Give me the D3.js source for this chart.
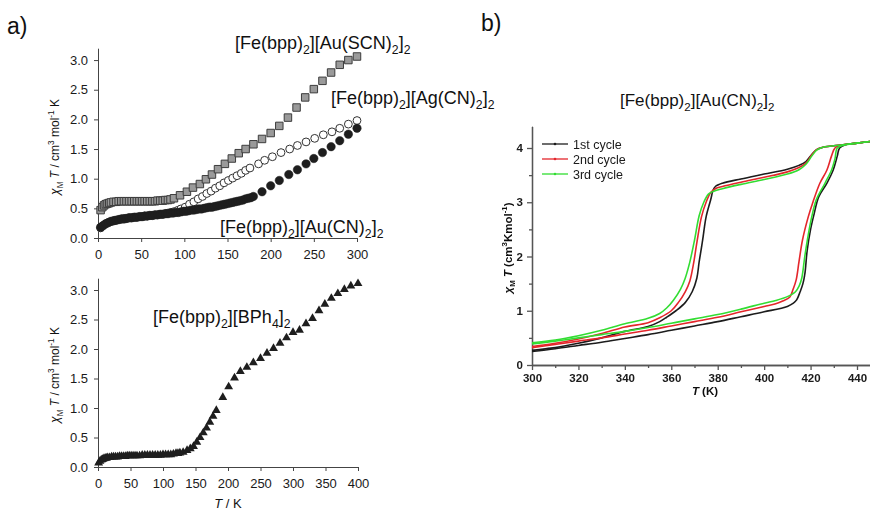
<!DOCTYPE html>
<html>
<head>
<meta charset="utf-8">
<script src="https://cdn.jsdelivr.net/npm/d3@7"></script>
<style>
  body { margin: 0; background: #fff; }
  svg { display: block; }
</style>
</head>
<body>
<svg id="fig" width="870" height="512"></svg>
<script>
// ---------- panel a (upper): chi_M T versus T for three salts, [T (K), chi_M T] ----------
const auScnData = [[3,0.47],[5,0.52],[7,0.55],[9,0.57],[11,0.58],[13,0.59],[15,0.60],[18,0.61],[21,0.61],[24,0.62],[27,0.62],[30,0.62],[33,0.62],[36,0.62],[39,0.62],[42,0.62],[45,0.62],[48,0.62],[51,0.62],[54,0.62],[57,0.62],[60,0.62],[63,0.62],[66,0.62],[69,0.63],[72,0.63],[75,0.63],[78,0.64],[81,0.64],[84,0.65],[88,0.67],[95,0.72],[103,0.78],[110,0.85],[118,0.91],[125,0.99],[132,1.07],[139,1.16],[147,1.25],[155,1.34],[163,1.43],[171,1.50],[180,1.58],[190,1.67],[200,1.77],[210,1.89],[220,2.03],[230,2.20],[240,2.37],[250,2.51],[260,2.65],[270,2.79],[280,2.92],[290,3.00],[300,3.06]];
const agCnData = [[3,0.17],[6,0.21],[9,0.24],[12,0.26],[15,0.28],[18,0.29],[21,0.30],[24,0.31],[27,0.32],[30,0.33],[33,0.33],[36,0.34],[39,0.34],[42,0.35],[45,0.35],[48,0.36],[51,0.36],[54,0.37],[57,0.37],[60,0.38],[63,0.38],[66,0.39],[69,0.39],[72,0.40],[75,0.40],[78,0.41],[81,0.42],[84,0.43],[87,0.44],[90,0.45],[93,0.47],[96,0.49],[101,0.52],[106,0.57],[111,0.61],[116,0.66],[121,0.70],[126,0.75],[131,0.79],[136,0.84],[141,0.88],[146,0.93],[151,0.97],[156,1.01],[161,1.05],[166,1.09],[171,1.14],[176,1.18],[186,1.25],[193,1.31],[202,1.37],[212,1.44],[222,1.50],[231,1.56],[241,1.62],[251,1.68],[261,1.74],[271,1.79],[280,1.85],[290,1.92],[300,1.98]];
const auCnData = [[3,0.18],[6,0.21],[9,0.24],[12,0.26],[15,0.28],[18,0.29],[21,0.30],[24,0.31],[27,0.32],[30,0.32],[33,0.33],[36,0.34],[39,0.34],[42,0.35],[45,0.35],[48,0.36],[51,0.36],[54,0.37],[57,0.37],[60,0.38],[63,0.38],[66,0.39],[69,0.39],[72,0.40],[75,0.40],[78,0.41],[81,0.41],[84,0.42],[87,0.42],[90,0.43],[93,0.43],[96,0.44],[99,0.45],[102,0.45],[105,0.46],[108,0.47],[111,0.47],[114,0.48],[117,0.49],[120,0.49],[123,0.50],[126,0.51],[129,0.52],[132,0.52],[135,0.53],[138,0.54],[141,0.55],[144,0.56],[147,0.57],[150,0.58],[153,0.59],[156,0.60],[159,0.61],[162,0.62],[165,0.63],[168,0.64],[171,0.66],[174,0.67],[177,0.68],[180,0.70],[190,0.78],[200,0.88],[210,0.97],[221,1.07],[231,1.15],[241,1.25],[250,1.34],[260,1.44],[270,1.54],[280,1.64],[290,1.75],[300,1.85]];

// ---------- panel a (lower): [Fe(bpp)2][BPh4]2 ----------
const bph4Data = [[1,0.07],[3,0.10],[5,0.12],[7,0.13],[9,0.14],[11,0.15],[13,0.15],[15,0.16],[18,0.16],[21,0.17],[24,0.17],[27,0.17],[30,0.17],[33,0.18],[36,0.18],[39,0.18],[42,0.18],[45,0.19],[48,0.19],[51,0.19],[54,0.19],[57,0.19],[60,0.19],[64,0.19],[68,0.20],[72,0.20],[76,0.20],[80,0.20],[84,0.20],[88,0.20],[92,0.20],[96,0.20],[100,0.21],[104,0.21],[108,0.21],[112,0.21],[116,0.22],[120,0.23],[123,0.23],[126,0.24],[131,0.25],[137,0.28],[142,0.31],[147,0.35],[152,0.42],[157,0.50],[162,0.58],[167,0.66],[172,0.76],[177,0.86],[182,0.96],[192,1.18],[201,1.36],[210,1.51],[219,1.62],[229,1.69],[239,1.77],[250,1.84],[260,1.93],[270,2.01],[280,2.10],[290,2.19],[300,2.28],[310,2.32],[320,2.43],[330,2.52],[340,2.65],[349,2.76],[359,2.86],[369,2.94],[379,3.01],[389,3.07],[400,3.11]];

// ---------- panel b: three thermal cycles of [Fe(bpp)2][Au(CN)2]2, heating and cooling ----------
const heat1 = [[300,0.25],[310,0.30],[320,0.36],[330,0.42],[340,0.49],[350,0.56],[360,0.64],[370,0.72],[380,0.80],[390,0.89],[400,0.98],[410,1.08],[412.6,1.14],[414,1.2],[415.5,1.35],[416.7,1.5],[417.6,1.7],[418.5,2.1],[420,2.5],[421.5,2.78],[423.5,3.1],[427,3.35],[429.7,3.59],[431.5,3.85],[432.5,4.0],[435,4.06],[440,4.09],[445.6,4.12]];
const cool1 = [[445.6,4.12],[440,4.09],[430,4.04],[425,4.01],[422.6,3.97],[420.5,3.88],[418,3.75],[415,3.68],[410,3.61],[400,3.52],[390,3.43],[382,3.35],[379,3.29],[378,3.22],[377,3.05],[375,2.73],[373.5,2.3],[372,1.9],[371,1.6],[369,1.35],[366,1.15],[362,1.0],[358,0.88],[355,0.8],[350,0.71],[340,0.62],[330,0.5],[320,0.4],[310,0.32],[300,0.27]];
const heat2 = [[300,0.32],[310,0.38],[320,0.44],[330,0.50],[340,0.57],[350,0.64],[360,0.72],[370,0.80],[380,0.88],[390,0.98],[400,1.08],[405,1.13],[408,1.18],[411,1.25],[412.5,1.4],[413.8,1.57],[415,1.9],[416.5,2.3],[419,2.73],[421,3.0],[424,3.35],[427,3.59],[429,3.85],[430.5,4.0],[433,4.05],[440,4.09],[445.6,4.12]];
const cool2 = [[445.6,4.12],[440,4.09],[430,4.04],[425,4.01],[422.6,3.97],[420.5,3.87],[418,3.72],[415,3.64],[410,3.56],[400,3.46],[390,3.37],[382,3.29],[379,3.25],[377,3.18],[375,3.0],[373,2.73],[371,2.25],[369.5,1.85],[368,1.55],[366,1.35],[363,1.15],[360,1.0],[355,0.87],[350,0.78],[340,0.70],[330,0.58],[320,0.48],[310,0.40],[300,0.34]];
const heat3 = [[300,0.39],[310,0.44],[320,0.50],[330,0.56],[340,0.62],[350,0.69],[360,0.77],[370,0.85],[380,0.93],[390,1.03],[400,1.14],[405,1.19],[410,1.26],[413.5,1.35],[415,1.45],[416.2,1.6],[417.5,2.0],[419,2.4],[420.5,2.73],[422.5,3.05],[426.2,3.35],[429,3.59],[430.5,3.8],[431.5,4.0],[434,4.05],[440,4.09],[445.6,4.12]];
const cool3 = [[445.6,4.12],[440,4.09],[430,4.04],[425,4.01],[422.6,3.96],[420.5,3.85],[418,3.7],[415,3.6],[410,3.52],[400,3.42],[390,3.33],[382,3.25],[378,3.2],[376,3.15],[374,3.0],[372,2.75],[370,2.3],[368,1.9],[366,1.6],[364,1.4],[361,1.2],[358,1.05],[355,0.95],[350,0.86],[340,0.76],[330,0.64],[320,0.54],[310,0.46],[300,0.41]];

const cycleNames = ["1st cycle", "2nd cycle", "3rd cycle"];
const cycleColors = ["#1c1c1c", "#e4262b", "#33dd33"];

// tick values
const aUpperTTicks = [0, 50, 100, 150, 200, 250, 300];
const aLowerTTicks = [0, 50, 100, 150, 200, 250, 300, 350, 400];
const aChiTicks = [0, 0.5, 1.0, 1.5, 2.0, 2.5, 3.0];
const bTTicks = [300, 320, 340, 360, 380, 400, 420, 440];
const bTMinor = [310, 330, 350, 370, 390, 410, 430];
const bChiTicks = [0, 1, 2, 3, 4];
const bChiMinor = [0.5, 1.5, 2.5, 3.5];

// formula labels as [text, kind] runs
const fAuScn = [["[Fe(bpp)"], ["2", "sub"], ["][Au(SCN)"], ["2", "sub"], ["]"], ["2", "sub"]];
const fAgCn  = [["[Fe(bpp)"], ["2", "sub"], ["][Ag(CN)"], ["2", "sub"], ["]"], ["2", "sub"]];
const fAuCn  = [["[Fe(bpp)"], ["2", "sub"], ["][Au(CN)"], ["2", "sub"], ["]"], ["2", "sub"]];
const fBph4  = [["[Fe(bpp)"], ["2", "sub"], ["][BPh"], ["4", "sub"], ["]"], ["2", "sub"]];
const chiLabelA = [["χ", null, "i"], ["M", "sub"], [" T", null, "i"], [" / cm"], ["3", "sup"], [" mol"], ["-1", "sup"], [" K"]];
const chiLabelB = [["χ", null, "i"], ["M", "sub"], [" T", null, "i"], [" (cm"], ["3", "sup"], ["Kmol"], ["-1", "sup"], [")"]];

const SANS = "'Liberation Sans', Arial, Helvetica, sans-serif";
const svg = d3.select("#fig");
svg.append("rect").attr("width", 870).attr("height", 512).attr("fill", "#fff");

// the scanned panel b is slightly soft
const defs = svg.append("defs");
defs.append("filter").attr("id", "soft").attr("x", "-5%").attr("y", "-5%").attr("width", "110%").attr("height", "110%")
  .append("feGaussianBlur").attr("stdDeviation", 0.45);

// text runs with sub/superscripts
function rich(text, parts, size) {
  let shift = 0;
  for (const [s, kind, style] of parts) {
    const target = kind === "sub" ? size * 0.3 : kind === "sup" ? -size * 0.42 : 0;
    const t = text.append("tspan").text(s).attr("dy", target - shift);
    shift = target;
    if (kind) t.attr("font-size", size * 0.68);
    if (style === "i") t.attr("font-style", "italic");
  }
  return text;
}

function label(g, x, y, parts, size, extra = {}) {
  const t = g.append("text").attr("x", x).attr("y", y)
    .attr("font-family", SANS).attr("font-size", size).attr("fill", "#111");
  for (const k in extra) t.attr(k, extra[k]);
  return rich(t, parts, size);
}

function styleAxis(sel, color, width, fontSize, bold) {
  sel.select(".domain").attr("stroke", color).attr("stroke-width", width);
  sel.selectAll(".tick line").attr("stroke", color).attr("stroke-width", width);
  sel.selectAll(".tick text").attr("font-family", SANS).attr("font-size", fontSize)
    .attr("fill", "#1a1a1a").attr("font-weight", bold ? "bold" : "normal");
}

function symbols(g, data, x, y, type, size, fill, stroke, sw) {
  g.append("g").selectAll("path").data(data).join("path")
    .attr("transform", d => `translate(${x(d[0])},${y(d[1])})`)
    .attr("d", d3.symbol(type, size))
    .attr("fill", fill)
    .attr("stroke", stroke || "none")
    .attr("stroke-width", sw || 0);
}

// ---------- panel a, upper ----------
{
  const g = svg.append("g");
  const x = d3.scaleLinear([0, 300], [98, 357]);
  const y = d3.scaleLinear([0, 3.2], [238, 48.2]);
  g.append("g").attr("transform", "translate(0,238)")
    .call(d3.axisBottom(x).tickValues(aUpperTTicks).tickSize(4).tickPadding(8).tickSizeOuter(0))
    .call(s => styleAxis(s, "#444", 1, 13));
  g.append("g").attr("transform", "translate(98,0)")
    .call(d3.axisLeft(y).tickValues(aChiTicks).tickFormat(d3.format(".1f")).tickSize(4).tickPadding(6).tickSizeOuter(0))
    .call(s => styleAxis(s, "#444", 1, 13));
  symbols(g, auScnData, x, y, d3.symbolSquare, 56, "#9a9a9a", "#3c3c3c", 1);
  symbols(g, agCnData, x, y, d3.symbolCircle, 48, "#fff", "#333", 1);
  symbols(g, auCnData, x, y, d3.symbolCircle, 56, "#1e1e1e", "#1e1e1e", 0.5);
  label(g, 0, 0, chiLabelA, 12, { transform: "translate(59,147) rotate(-90)", "text-anchor": "middle" });
  label(g, 235, 49, fAuScn, 18);
  label(g, 331, 104, fAgCn, 18);
  label(g, 220, 233, fAuCn, 18);
}

// ---------- panel a, lower ----------
{
  const g = svg.append("g");
  const x = d3.scaleLinear([0, 400], [98, 358]);
  const y = d3.scaleLinear([0, 3.2], [467, 278.2]);
  g.append("g").attr("transform", "translate(0,467)")
    .call(d3.axisBottom(x).tickValues(aLowerTTicks).tickSize(4).tickPadding(8).tickSizeOuter(0))
    .call(s => styleAxis(s, "#444", 1, 13));
  g.append("g").attr("transform", "translate(98,0)")
    .call(d3.axisLeft(y).tickValues(aChiTicks).tickFormat(d3.format(".1f")).tickSize(4).tickPadding(6).tickSizeOuter(0))
    .call(s => styleAxis(s, "#444", 1, 13));
  symbols(g, bph4Data, x, y, d3.symbolTriangle, 34, "#1e1e1e");
  label(g, 0, 0, chiLabelA, 12, { transform: "translate(59,375) rotate(-90)", "text-anchor": "middle" });
  label(g, 228, 508, [["T", null, "i"], [" / K"]], 13, { "text-anchor": "middle" });
  label(g, 153, 323, fBph4, 18);
}

// ---------- panel b ----------
{
  const g = svg.append("g").attr("filter", "url(#soft)");
  const x = d3.scaleLinear([300, 445.6], [532, 870]);
  const y = d3.scaleLinear([0, 4.4], [365, 126.3]);
  const axisColor = "#555";
  g.append("g").attr("transform", "translate(0,365)")
    .call(d3.axisBottom(x).tickValues(bTMinor).tickSize(3).tickFormat("").tickSizeOuter(0))
    .call(s => styleAxis(s, axisColor, 1.3, 11.5, true));
  g.append("g").attr("transform", "translate(0,365)")
    .call(d3.axisBottom(x).tickValues(bTTicks).tickFormat(d3.format("d")).tickSize(5).tickPadding(4).tickSizeOuter(0))
    .call(s => styleAxis(s, axisColor, 1.3, 11.5, true));
  g.append("g").attr("transform", "translate(532,0)")
    .call(d3.axisLeft(y).tickValues(bChiMinor).tickSize(3).tickFormat("").tickSizeOuter(0))
    .call(s => styleAxis(s, axisColor, 1.3, 11.5, true));
  g.append("g").attr("transform", "translate(532,0)")
    .call(d3.axisLeft(y).tickValues(bChiTicks).tickFormat(d3.format("d")).tickSize(5).tickPadding(4).tickSizeOuter(0))
    .call(s => styleAxis(s, axisColor, 1.3, 11.5, true));

  const line = d3.line().x(d => x(d[0])).y(d => y(d[1])).curve(d3.curveCatmullRom.alpha(0.5));
  const cycles = [[heat1, cool1], [heat2, cool2], [heat3, cool3]];
  cycles.forEach((branches, i) => {
    branches.forEach(b => {
      g.append("path").attr("d", line(b)).attr("fill", "none")
        .attr("stroke", cycleColors[i]).attr("stroke-width", 1.6).attr("stroke-linejoin", "round");
    });
  });

  // legend
  cycleNames.forEach((name, i) => {
    const ly = 144 + i * 15;
    g.append("line").attr("x1", 542).attr("x2", 568).attr("y1", ly).attr("y2", ly)
      .attr("stroke", cycleColors[i]).attr("stroke-width", 1.3);
    g.append("circle").attr("cx", 555).attr("cy", ly).attr("r", 1.3).attr("fill", cycleColors[i]);
    g.append("text").attr("x", 573).attr("y", ly + 4.5).attr("font-family", SANS)
      .attr("font-size", 12.5).attr("fill", "#1a1a1a").text(name);
  });

  label(g, 0, 0, chiLabelB, 11.5, { transform: "translate(512,248) rotate(-90)", "text-anchor": "middle", "font-weight": "bold" });
  label(g, 705, 395, [["T", null, "i"], [" (K)"]], 11.5, { "text-anchor": "middle", "font-weight": "bold" });
}

// panel b heading and panel letters
label(svg, 620, 106, fAuCn, 17);
svg.append("text").attr("x", 7).attr("y", 34).attr("font-family", SANS).attr("font-size", 23).attr("fill", "#111").text("a)");
svg.append("text").attr("x", 481).attr("y", 31).attr("font-family", SANS).attr("font-size", 23).attr("fill", "#111").text("b)");
</script>
</body>
</html>
